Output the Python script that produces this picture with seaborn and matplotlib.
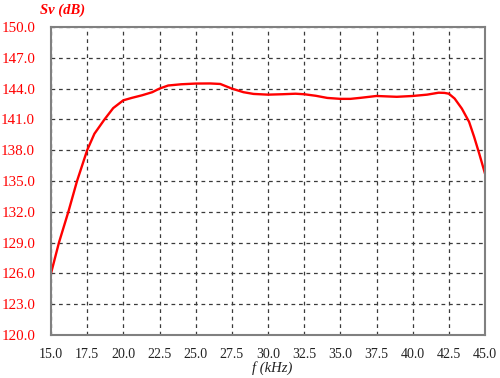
import matplotlib
matplotlib.use("Agg")
import matplotlib.pyplot as plt
import seaborn as sns
import pandas as pd

# Data
freq_khz = [15.0, 15.55, 16.2, 16.8, 17.5, 18.0, 18.7, 19.3, 20.0, 20.6, 21.3, 22.0,
            22.5, 23.1, 24.0, 25.0, 26.0, 26.7, 27.5, 28.3, 29.0, 30.0, 31.0, 31.9,
            32.5, 33.3, 34.1, 35.0, 35.7, 36.4, 37.5, 38.9, 40.0, 41.0, 41.8, 42.2,
            42.5, 42.9, 43.4, 43.9, 44.25, 44.6, 45.0]
sv_db = [126.0, 129.0, 132.0, 135.0, 138.0, 139.6, 141.0, 142.1, 142.86, 143.1, 143.35, 143.65,
         144.0, 144.3, 144.42, 144.49, 144.5, 144.45, 144.0, 143.65, 143.48, 143.41, 143.45, 143.5,
         143.45, 143.3, 143.09, 143.0, 143.0, 143.1, 143.28, 143.2, 143.28, 143.41, 143.6, 143.58,
         143.5, 143.03, 142.05, 140.76, 139.29, 137.67, 135.72]
x_ticks = [15.0, 17.5, 20.0, 22.5, 25.0, 27.5, 30.0, 32.5, 35.0, 37.5, 40.0, 42.5, 45.0]
y_ticks = [120.0, 123.0, 126.0, 129.0, 132.0, 135.0, 138.0, 141.0, 144.0, 147.0, 150.0]

df = pd.DataFrame({"f": freq_khz, "sv": sv_db})

sns.set_theme(style="white")
plt.rcParams["font.family"] = ["Liberation Serif", "DejaVu Serif"]

fig = plt.figure(figsize=(5.0, 3.78), dpi=100)
ax = fig.add_axes([0.102, 0.1138, 0.868, 0.8148])

sns.lineplot(data=df, x="f", y="sv", ax=ax, color="#ff0000", linewidth=1.7, sort=False)

ax.set_xlim(15, 45)
ax.set_ylim(120, 150)
ax.set_xticks(x_ticks)
ax.set_yticks(y_ticks)
ax.set_xticklabels([f"{v:.1f}" for v in x_ticks], fontsize=10, color="#222222")
ax.set_yticklabels([f"{v:.1f}" for v in y_ticks], fontsize=10.8, color="#ff0000")
ax.tick_params(axis="both", length=0)
ax.tick_params(axis="y", pad=11.5)
ax.tick_params(axis="x", pad=9.5)

ax.grid(True, color="#3a3a3a", linestyle=(0, (3, 3)), linewidth=0.9)
for s in ax.spines.values():
    s.set_visible(True)
    s.set_color("#808080")
    s.set_linewidth(1.5)

ax.set_xlabel("")
ax.set_ylabel("")

fig.text(0.126, 0.972, "Sv (dB)", color="#ff0000", fontsize=10.5, fontstyle="italic",
         fontweight="bold", ha="center", va="center")
fig.text(0.544, 0.027, "f (kHz)", color="#222222", fontsize=10.5, fontstyle="italic",
         ha="center", va="center")

fig.savefig("out.png", dpi=100)
